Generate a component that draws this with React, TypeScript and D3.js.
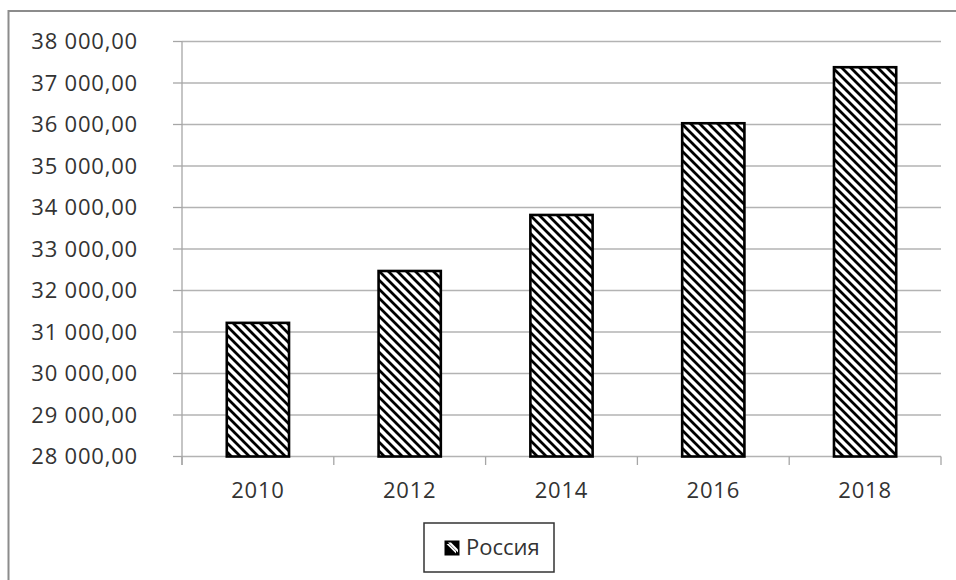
import React from "react";
import * as d3 from "d3";

const years = ["2010", "2012", "2014", "2016", "2018"];
const russiaValues = [31220, 32470, 33820, 36030, 37380];
const yTicks = [28000, 29000, 30000, 31000, 32000, 33000, 34000, 35000, 36000, 37000, 38000];
const seriesName = "Россия";

const W = 956;
const H = 580;
const plot = { left: 182, right: 941, top: 41.5, bottom: 456.5 };
const FONT = "'Open Sans', 'Noto Sans', sans-serif";

const fmt = (v: number) => {
  const [i, f] = v.toFixed(2).split(".");
  return i.replace(/\B(?=(\d{3})+(?!\d))/g, " ") + "," + f;
};

export default function App() {
  const x = d3.scaleBand<string>().domain(years).range([plot.left, plot.right]).padding(0);
  const y = d3.scaleLinear().domain([28000, 38000]).range([plot.bottom, plot.top]);
  const step = x.step();
  const barW = step * 0.41;
  const boundaries = d3.range(years.length + 1).map((i) => plot.left + i * step);

  return (
    <svg
      width={W}
      height={H}
      style={{ position: "absolute", left: 0, top: 0, background: "#fff" }}
      fontFamily={FONT}
    >
      <defs>
        <pattern id="hatch" patternUnits="userSpaceOnUse" width={9} height={9}>
          <rect width={9} height={9} fill="#fff" />
          <path d="M-2,-2 L11,11 M-2,7 L2,11 M7,-2 L11,2" stroke="#000" strokeWidth={2.8} />
        </pattern>
      </defs>

      {/* chart frame */}
      <rect x={8.5} y={11} width={W + 20} height={H + 20} fill="#fff" stroke="#8c8c8c" strokeWidth={2} />

      {/* horizontal gridlines and y ticks */}
      {yTicks.map((t) => (
        <g key={t}>
          <line x1={plot.left} x2={plot.right} y1={y(t)} y2={y(t)} stroke="#b3b3b3" strokeWidth={1.3} />
          <line x1={173} x2={plot.left} y1={y(t)} y2={y(t)} stroke="#a6a6a6" strokeWidth={1.3} />
          <text
            x={138}
            y={y(t)}
            dy="0.36em"
            textAnchor="end"
            fontSize={22}
            letterSpacing={0.8}
            fill="#333"
          >
            {fmt(t)}
          </text>
        </g>
      ))}

      {/* y axis line */}
      <line x1={plot.left} x2={plot.left} y1={plot.top} y2={465} stroke="#a6a6a6" strokeWidth={1.3} />

      {/* x axis category separators */}
      {boundaries.map((b, i) => (
        <line key={i} x1={b} x2={b} y1={plot.bottom} y2={465} stroke="#a6a6a6" strokeWidth={1.3} />
      ))}

      {/* bars */}
      {years.map((yr, i) => {
        const cx = (x(yr) as number) + step / 2;
        const top = y(russiaValues[i]);
        return (
          <rect
            key={yr}
            x={cx - barW / 2}
            y={top}
            width={barW}
            height={plot.bottom - top}
            fill="url(#hatch)"
            stroke="#000"
            strokeWidth={2.6}
          />
        );
      })}

      {/* x labels */}
      {years.map((yr) => (
        <text
          key={yr}
          x={(x(yr) as number) + step / 2}
          y={498}
          textAnchor="middle"
          fontSize={22}
          letterSpacing={0.8}
          fill="#333"
        >
          {yr}
        </text>
      ))}

      {/* legend */}
      <g>
        <rect x={424} y={523} width={130} height={49} fill="#fff" stroke="#333" strokeWidth={1.5} />
        <rect x={444.5} y={540.5} width={15} height={15} fill="#000" />
        <path d="M446.5,544 L456,553.5 L456,551 L449,544 Z" fill="#fff" />
        <path d="M448,542.5 L458,552.5 L458,549.5 L451,542.5 Z" fill="#fff" />
        <text x={466} y={555} fontSize={22} fill="#333">
          {seriesName}
        </text>
      </g>
    </svg>
  );
}
